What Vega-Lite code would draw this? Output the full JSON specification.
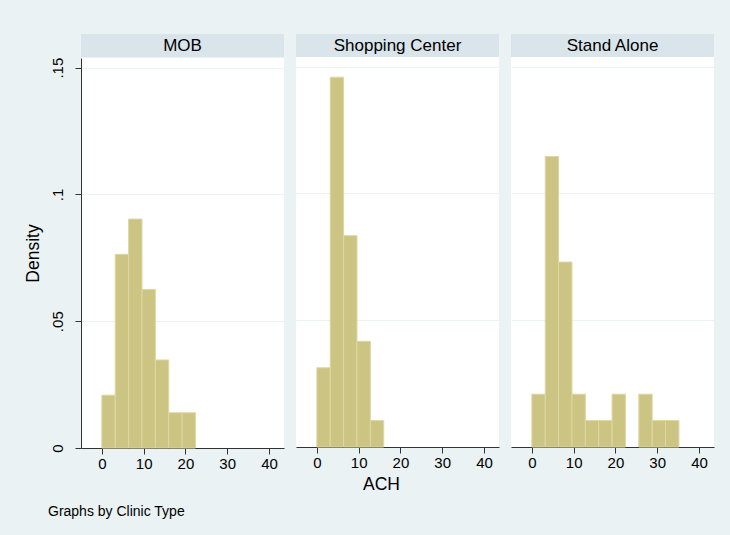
{
  "$schema": "https://vega.github.io/schema/vega-lite/v6.json",
  "background": "#EAF2F3",
  "padding": {"left": 24, "top": 34, "right": 17, "bottom": 20},
  "config": {
    "font": "Liberation Sans",
    "view": {"stroke": null, "fill": "white"},
    "axis": {
      "domainColor": "#333333",
      "tickColor": "#333333",
      "labelColor": "black",
      "titleColor": "black",
      "labelFont": "Liberation Sans",
      "titleFont": "Liberation Sans",
      "labelFontSize": 15,
      "titleFontSize": 17.5,
      "titleFontWeight": "normal",
      "tickSize": 6,
      "gridColor": "#EAF2F3",
      "gridWidth": 1,
      "gridOpacity": 1
    }
  },
  "title": {
    "text": "Graphs by Clinic Type",
    "orient": "bottom",
    "anchor": "start",
    "frame": "bounds",
    "fontSize": 14,
    "fontWeight": "normal",
    "color": "black",
    "font": "Liberation Sans",
    "offset": 12,
    "dx": 24
  },
  "datasets": {
    "hist": [
      {"type": "MOB", "bin_start": 0, "bin_end": 3.2, "density": 0.02083},
      {"type": "MOB", "bin_start": 3.2, "bin_end": 6.4, "density": 0.07639},
      {"type": "MOB", "bin_start": 6.4, "bin_end": 9.6, "density": 0.09028},
      {"type": "MOB", "bin_start": 9.6, "bin_end": 12.8, "density": 0.0625},
      {"type": "MOB", "bin_start": 12.8, "bin_end": 16, "density": 0.03472},
      {"type": "MOB", "bin_start": 16, "bin_end": 19.2, "density": 0.01389},
      {"type": "MOB", "bin_start": 19.2, "bin_end": 22.4, "density": 0.01389},
      {"type": "Shopping Center", "bin_start": 0, "bin_end": 3.2, "density": 0.03125},
      {"type": "Shopping Center", "bin_start": 3.2, "bin_end": 6.4, "density": 0.14583},
      {"type": "Shopping Center", "bin_start": 6.4, "bin_end": 9.6, "density": 0.08333},
      {"type": "Shopping Center", "bin_start": 9.6, "bin_end": 12.8, "density": 0.04167},
      {"type": "Shopping Center", "bin_start": 12.8, "bin_end": 16, "density": 0.01042},
      {"type": "Stand Alone", "bin_start": 0, "bin_end": 3.2, "density": 0.02083},
      {"type": "Stand Alone", "bin_start": 3.2, "bin_end": 6.4, "density": 0.11458},
      {"type": "Stand Alone", "bin_start": 6.4, "bin_end": 9.6, "density": 0.07292},
      {"type": "Stand Alone", "bin_start": 9.6, "bin_end": 12.8, "density": 0.02083},
      {"type": "Stand Alone", "bin_start": 12.8, "bin_end": 16, "density": 0.01042},
      {"type": "Stand Alone", "bin_start": 16, "bin_end": 19.2, "density": 0.01042},
      {"type": "Stand Alone", "bin_start": 19.2, "bin_end": 22.4, "density": 0.02083},
      {"type": "Stand Alone", "bin_start": 25.6, "bin_end": 28.8, "density": 0.02083},
      {"type": "Stand Alone", "bin_start": 28.8, "bin_end": 32, "density": 0.01042},
      {"type": "Stand Alone", "bin_start": 32, "bin_end": 35.2, "density": 0.01042}
    ]
  },
  "spacing": 12,
  "hconcat": [
    {
      "spacing": 0,
      "vconcat": [
        {
          "width": 203,
          "height": 23,
          "view": {"fill": "#D9E5EA", "stroke": null},
          "data": {"values": [{"label": "MOB"}]},
          "mark": {"type": "text", "fontSize": 17, "color": "black", "font": "Liberation Sans"},
          "encoding": {"text": {"field": "label"}}
        },
        {
          "width": 203,
          "height": 390,
          "data": {"name": "hist"},
          "transform": [{"filter": "datum.type === 'MOB'"}],
          "mark": {"type": "bar", "fill": "#CBC482", "stroke": "#DDD7A3", "strokeWidth": 1, "orient": "vertical"},
          "encoding": {
            "x": {"field": "bin_start", "type": "quantitative", "scale": {"domain": [-3.8, 42.4], "nice": false, "zero": false},
                  "axis": {"values": [0, 10, 20, 30, 40], "grid": false, "title": null, "labelPadding": 2}},
            "x2": {"field": "bin_end"},
            "y": {"field": "density", "type": "quantitative", "scale": {"domain": [0, 0.1538], "nice": false},
                  "axis": {"values": [0, 0.05, 0.1, 0.15], "format": ".2~f", "labelExpr": "datum.value == 0 ? '0' : slice(datum.label, 1)",
                           "labelAngle": 270, "grid": true, "title": "Density", "titlePadding": 8, "labelPadding": 10}},
            "y2": {"datum": 0}
          }
        }
      ]
    },
    {
      "spacing": 0,
      "vconcat": [
        {
          "width": 203,
          "height": 23,
          "view": {"fill": "#D9E5EA", "stroke": null},
          "data": {"values": [{"label": "Shopping Center"}]},
          "mark": {"type": "text", "fontSize": 17, "color": "black", "font": "Liberation Sans"},
          "encoding": {"text": {"field": "label"}}
        },
        {
          "width": 203,
          "height": 390,
          "data": {"name": "hist"},
          "transform": [{"filter": "datum.type === 'Shopping Center'"}],
          "mark": {"type": "bar", "fill": "#CBC482", "stroke": "#DDD7A3", "strokeWidth": 1, "orient": "vertical"},
          "encoding": {
            "x": {"field": "bin_start", "type": "quantitative", "scale": {"domain": [-3.8, 42.4], "nice": false, "zero": false},
                  "axis": {"values": [0, 10, 20, 30, 40], "grid": false, "title": "ACH", "titleX": 85, "titlePadding": 5, "labelPadding": 2}},
            "x2": {"field": "bin_end"},
            "y": {"field": "density", "type": "quantitative", "scale": {"domain": [0, 0.1538], "nice": false},
                  "axis": {"values": [0, 0.05, 0.1, 0.15], "grid": true, "labels": false, "ticks": false, "domain": false, "title": null}},
            "y2": {"datum": 0}
          }
        }
      ]
    },
    {
      "spacing": 0,
      "vconcat": [
        {
          "width": 203,
          "height": 23,
          "view": {"fill": "#D9E5EA", "stroke": null},
          "data": {"values": [{"label": "Stand Alone"}]},
          "mark": {"type": "text", "fontSize": 17, "color": "black", "font": "Liberation Sans"},
          "encoding": {"text": {"field": "label"}}
        },
        {
          "width": 203,
          "height": 390,
          "data": {"name": "hist"},
          "transform": [{"filter": "datum.type === 'Stand Alone'"}],
          "mark": {"type": "bar", "fill": "#CBC482", "stroke": "#DDD7A3", "strokeWidth": 1, "orient": "vertical"},
          "encoding": {
            "x": {"field": "bin_start", "type": "quantitative", "scale": {"domain": [-3.8, 42.4], "nice": false, "zero": false},
                  "axis": {"values": [0, 10, 20, 30, 40], "grid": false, "title": null, "labelPadding": 2}},
            "x2": {"field": "bin_end"},
            "y": {"field": "density", "type": "quantitative", "scale": {"domain": [0, 0.1538], "nice": false},
                  "axis": {"values": [0, 0.05, 0.1, 0.15], "grid": true, "labels": false, "ticks": false, "domain": false, "title": null}},
            "y2": {"datum": 0}
          }
        }
      ]
    }
  ]
}
